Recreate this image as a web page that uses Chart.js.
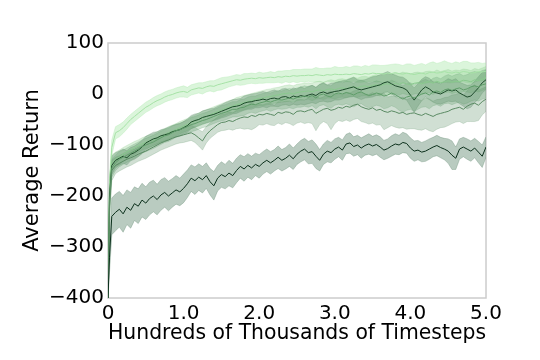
<!DOCTYPE html>
<html>
<head>
<meta charset="utf-8">
<script src="https://cdn.jsdelivr.net/npm/chart.js@4.4.1/dist/chart.umd.min.js"></script>
<style>
  html, body { margin: 0; padding: 0; background: #ffffff; }
  #chart { display: block; }
</style>
</head>
<body>
<canvas id="chart" width="540" height="360"></canvas>
<script>
'use strict';

// timesteps, hundreds of thousands
let steps = [
  0, 0.02, 0.05,
  0.10, 0.15, 0.20, 0.25, 0.30, 0.35, 0.40, 0.45, 0.50, 0.55,
  0.60, 0.65, 0.70, 0.75, 0.80, 0.85, 0.90, 0.95, 1.00, 1.05,
  1.10, 1.15, 1.20, 1.25, 1.30, 1.35, 1.40, 1.45, 1.50, 1.55,
  1.60, 1.65, 1.70, 1.75, 1.80, 1.85, 1.90, 1.95, 2.00, 2.05,
  2.10, 2.15, 2.20, 2.25, 2.30, 2.35, 2.40, 2.45, 2.50, 2.55,
  2.60, 2.65, 2.70, 2.75, 2.80, 2.85, 2.90, 2.95, 3.00, 3.05,
  3.10, 3.15, 3.20, 3.25, 3.30, 3.35, 3.40, 3.45, 3.50, 3.55,
  3.60, 3.65, 3.70, 3.75, 3.80, 3.85, 3.90, 3.95, 4.00, 4.05,
  4.10, 4.15, 4.20, 4.25, 4.30, 4.35, 4.40, 4.45, 4.50, 4.55,
  4.60, 4.65, 4.70, 4.75, 4.80, 4.85, 4.90, 4.95, 5.00
];

// pale green run (top)
let paleMean = [
  -400, -180, -105,
  -76, -72, -66, -58, -50, -44, -38, -32, -26, -22,
  -17, -13, -10, -6, -3, -1, 2, 4, 5, 3,
  8, 10, 12, 11, 14, 16, 15, 18, 20, 22,
  24, 26, 28, 27, 29, 30, 31, 30, 32, 31,
  32, 33, 32, 34, 33, 35, 34, 36, 35, 36,
  36, 37, 36, 38, 37, 36, 38, 37, 39, 38,
  38, 39, 38, 40, 39, 38, 40, 39, 41, 40,
  40, 39, 41, 40, 42, 40, 39, 41, 40, 38,
  40, 41, 39, 42, 43, 41, 42, 44, 42, 41,
  43, 42, 44, 43, 41, 42, 44, 43, 45
];
let paleSpread = [
  0, 20, 15,
  12, 12, 11, 11, 10, 10, 10, 10, 10, 10,
  10, 10, 10, 10, 10, 10, 10, 10, 11, 10,
  10, 10, 10, 11, 10, 10, 11, 11, 12, 11,
  10, 10, 10, 10, 11, 10, 10, 10, 11, 10,
  10, 11, 10, 11, 12, 11, 12, 12, 13, 12,
  13, 12, 13, 14, 13, 14, 13, 14, 15, 14,
  14, 15, 14, 15, 16, 15, 16, 15, 16, 17,
  16, 17, 16, 18, 17, 18, 17, 18, 19, 18,
  18, 19, 18, 19, 20, 19, 20, 21, 20, 19,
  20, 19, 20, 21, 20, 19, 18, 17, 16
];

// light-mid green run
let lightMean = [
  -400, -190, -135,
  -128, -124, -118, -114, -110, -106, -102, -98, -95, -92,
  -90, -86, -83, -80, -76, -73, -70, -66, -63, -60,
  -56, -53, -50, -47, -44, -41, -38, -35, -32, -29,
  -26, -24, -21, -19, -17, -15, -13, -11, -9, -8,
  -6, -5, -3, -2, 0, 1, 2, 0, 3, 4,
  5, 6, 4, 7, 8, 6, 9, 10, 8, 11,
  12, 10, 13, 14, 12, 15, 16, 14, 17, 18,
  16, 19, 20, 18, 21, 19, 22, 20, 18, 21,
  22, 20, 23, 24, 21, 25, 22, 24, 26, 23,
  25, 24, 27, 26, 24, 28, 26, 29, 32
];
let lightSpread = [
  0, 25, 16,
  14, 14, 13, 13, 13, 13, 12, 12, 12, 12,
  12, 12, 12, 12, 12, 12, 12, 12, 12, 12,
  12, 12, 13, 13, 13, 13, 13, 13, 13, 13,
  13, 13, 14, 14, 14, 14, 14, 14, 14, 15,
  15, 15, 15, 15, 15, 16, 16, 16, 16, 16,
  16, 16, 17, 17, 17, 17, 17, 18, 18, 18,
  18, 18, 18, 19, 19, 19, 19, 19, 19, 20,
  20, 20, 20, 20, 20, 21, 21, 21, 21, 21,
  21, 21, 21, 21, 22, 22, 22, 22, 22, 22,
  22, 22, 22, 22, 22, 22, 22, 22, 22
];

// medium green run
let midMean = [
  -400, -210, -145,
  -135, -128, -124, -120, -116, -112, -108, -103, -100, -97,
  -94, -90, -86, -82, -80, -76, -72, -70, -67, -64,
  -60, -58, -55, -52, -50, -47, -44, -41, -38, -36,
  -33, -30, -30, -27, -26, -22, -20, -21, -18, -16,
  -14, -16, -13, -11, -12, -10, -8, -10, -7, -6,
  -4, -6, -3, -8, -2, 0, -4, -6, 0, 2,
  0, 3, 1, -2, 2, 4, 0, -3, -1, 2,
  0, -4, -2, 2, -1, -6, -10, -6, -4, -8,
  -4, 0, 2, -2, 4, 6, 3, 8, 10, 7,
  10, 12, 8, 10, 14, 16, 14, 18, 20
];
let midSpread = [
  0, 30, 18,
  15, 15, 14, 14, 14, 14, 14, 13, 13, 13,
  13, 13, 13, 13, 13, 13, 13, 13, 13, 13,
  14, 14, 14, 14, 14, 14, 14, 14, 15, 15,
  15, 15, 15, 16, 16, 16, 16, 17, 17, 17,
  17, 18, 18, 18, 18, 19, 19, 19, 19, 20,
  20, 20, 20, 21, 21, 21, 21, 22, 22, 22,
  22, 22, 23, 23, 23, 23, 24, 24, 24, 24,
  24, 25, 25, 25, 25, 26, 26, 26, 26, 26,
  26, 26, 27, 27, 27, 27, 27, 27, 28, 28,
  28, 28, 28, 28, 28, 28, 28, 28, 28
];

// grey-green run, lower edge of the cluster
let lowMean = [
  -400, -220, -150,
  -140, -136, -132, -128, -125, -122, -118, -115, -112, -108,
  -104, -100, -96, -93, -90, -87, -84, -82, -80, -78,
  -76, -80, -86, -92, -80, -72, -66, -60, -56, -55,
  -52, -54, -50, -47, -45, -46, -42, -44, -40, -41,
  -38, -40, -42, -36, -38, -35, -36, -40, -34, -33,
  -35, -32, -30, -38, -34, -30, -28, -32, -30, -26,
  -28, -24, -26, -22, -20, -25, -28, -30, -27, -32,
  -30, -34, -36, -33, -35, -38, -36, -40, -38, -37,
  -40, -42, -38, -41, -44, -40, -38, -36, -34, -30,
  -28, -26, -30, -24, -20, -18, -22, -15, -10
];
let lowSpread = [
  0, 30, 20,
  16, 15, 15, 15, 15, 14, 14, 14, 14, 14,
  14, 14, 14, 14, 14, 14, 14, 14, 15, 15,
  15, 15, 16, 18, 16, 15, 15, 15, 16, 16,
  17, 17, 18, 20, 24, 22, 28, 22, 20, 20,
  20, 21, 20, 21, 22, 21, 22, 22, 23, 22,
  23, 24, 28, 34, 26, 24, 30, 38, 28, 26,
  26, 27, 28, 28, 28, 29, 28, 29, 30, 29,
  30, 36, 30, 29, 30, 29, 30, 29, 30, 31,
  30, 29, 30, 31, 30, 29, 28, 29, 28, 28,
  27, 28, 28, 30, 34, 36, 30, 26, 24
];

// dark green run, sits in the middle of the cluster
let darkMean = [
  -400, -200, -140,
  -130, -126, -122, -125, -118, -115, -110, -104, -96, -92,
  -88, -86, -82, -80, -78, -74, -72, -70, -66, -62,
  -55, -52, -50, -46, -44, -42, -40, -37, -34, -31,
  -28, -25, -24, -22, -18, -16, -15, -13, -12, -10,
  -12, -9, -8, -10, -6, -5, -8, -4, -6, -3,
  -5, -2, 0, -3, 2, 4, 1, 3, 5, 6,
  8, 10, 12, 14, 10, 8, 10, 12, 14, 16,
  18, 22, 24, 20, 16, 14, 12, 8, -2, -12,
  -2, 8, 14, 10, 4, 2, 0, 4, 8, 6,
  8, 2, -2, -6, -4, 4, 12, 22, 28
];
let darkSpread = [
  0, 30, 18,
  15, 14, 14, 14, 13, 13, 13, 13, 13, 13,
  13, 12, 12, 12, 13, 12, 12, 12, 12, 13,
  13, 13, 12, 13, 13, 13, 12, 13, 13, 14,
  14, 14, 14, 13, 14, 14, 15, 14, 15, 15,
  15, 15, 16, 15, 16, 16, 15, 16, 16, 17,
  16, 17, 17, 16, 17, 18, 17, 18, 17, 18,
  18, 17, 18, 19, 18, 19, 18, 19, 20, 19,
  20, 19, 20, 20, 21, 20, 21, 20, 22, 24,
  22, 21, 20, 21, 20, 21, 20, 21, 22, 21,
  22, 21, 22, 23, 22, 21, 22, 20, 19
];

// darkest run, well below the others
let bottomMean = [
  -400, -320, -240,
  -232, -226, -235, -222, -228, -215, -220, -208, -214, -205,
  -200, -207, -198, -193, -200, -194, -188, -192, -185, -176,
  -165, -170, -163, -168, -160, -172, -180, -165, -158, -162,
  -155, -160, -150, -142, -147, -140, -145, -138, -142, -135,
  -130, -135, -130, -124, -130, -126, -120, -127, -118, -112,
  -108, -115, -113, -122, -130, -118, -112, -115, -108, -104,
  -110, -98, -96, -103, -100, -106, -101, -98, -102, -99,
  -104, -110, -107, -102, -98, -100, -95, -97, -106, -112,
  -110, -114, -112, -108, -104, -101, -105, -108, -112, -120,
  -126, -108, -104, -108, -112, -106, -114, -122, -104
];
let bottomSpread = [
  0, 30, 36,
  36, 35, 36, 34, 35, 33, 34, 33, 32, 32,
  31, 30, 30, 29, 29, 28, 28, 27, 28, 27,
  26, 27, 26, 26, 25, 26, 28, 25, 25, 24,
  25, 24, 24, 23, 24, 23, 23, 22, 23, 22,
  22, 22, 21, 22, 21, 21, 22, 21, 20, 21,
  21, 22, 23, 24, 21, 20, 21, 20, 20, 19,
  20, 19, 20, 19, 19, 20, 19, 20, 19, 19,
  20, 19, 19, 20, 20, 19, 20, 19, 20, 20,
  19, 19, 20, 20, 19, 20, 20, 21, 24, 28,
  22, 20, 19, 20, 20, 19, 21, 22, 20
];

let xTicks = [0, 1, 2, 3, 4, 5];
let yTicks = [-400, -300, -200, -100, 0, 100];

let runs = [
  { mean: bottomMean, spread: bottomSpread, line: '#0b2f1b', band: 'rgba(100,140,115,0.45)' },
  { mean: lowMean, spread: lowSpread, line: '#5a8a63', band: 'rgba(100,150,110,0.3)' },
  { mean: midMean, spread: midSpread, line: '#5f9d69', band: 'rgba(105,165,115,0.3)' },
  { mean: darkMean, spread: darkSpread, line: '#1d4a2b', band: 'rgba(70,120,85,0.3)' },
  { mean: lightMean, spread: lightSpread, line: '#89c98d', band: 'rgba(140,205,140,0.32)' },
  { mean: paleMean, spread: paleSpread, line: '#a6e2a6', band: 'rgba(175,232,175,0.45)' }
];

function points(mean, spread, sign) {
  return steps.map((x, i) => ({ x: x, y: mean[i] + sign * spread[i] }));
}

let datasets = [];
for (let r of runs) {
  datasets.push({
    data: points(r.mean, r.spread, 1),
    borderColor: r.band, borderWidth: 0.8, backgroundColor: r.band,
    pointRadius: 0, fill: '+1', order: 2, tension: 0
  });
  datasets.push({
    data: points(r.mean, r.spread, -1),
    borderColor: r.band, borderWidth: 0.8, backgroundColor: r.band,
    pointRadius: 0, fill: false, order: 2, tension: 0
  });
}
for (let r of runs) {
  datasets.push({
    data: points(r.mean, r.spread, 0),
    borderColor: r.line, borderWidth: 1, pointRadius: 0,
    fill: false, order: 1, tension: 0
  });
}

let frame = {
  id: 'frame',
  beforeDatasetsDraw(chart) {
    let ctx = chart.ctx;
    let a = chart.chartArea;
    ctx.save();
    ctx.strokeStyle = '#cccccc';
    ctx.lineWidth = 1.5;
    ctx.strokeRect(a.left, a.top, a.right - a.left, a.bottom - a.top);
    ctx.restore();
  }
};

let tickFont = { family: 'DejaVu Sans', size: 20 };
let titleFont = { family: 'DejaVu Sans', size: 21 };

new Chart(document.getElementById('chart').getContext('2d'), {
  type: 'line',
  data: { datasets: datasets },
  plugins: [frame],
  options: {
    responsive: false,
    animation: false,
    layout: { padding: { left: 0, right: 54, top: 43, bottom: 0 } },
    plugins: { legend: { display: false }, tooltip: { enabled: false } },
    scales: {
      x: {
        type: 'linear', min: 0, max: 5,
        afterFit(scale) { scale.height = 62; },
        afterBuildTicks(scale) { scale.ticks = xTicks.map(v => ({ value: v })); },
        grid: { display: false, drawTicks: false },
        border: { display: false },
        ticks: {
          autoSkip: false, maxRotation: 0, padding: 4, color: '#000000', font: tickFont,
          callback: v => (v === 0 ? '0' : v.toFixed(1))
        },
        title: {
          display: true, text: 'Hundreds of Thousands of Timesteps',
          color: '#000000', font: titleFont, padding: { top: 0, bottom: 14 }
        }
      },
      y: {
        type: 'linear', min: -400, max: 100,
        afterFit(scale) { scale.width = 108; },
        afterBuildTicks(scale) { scale.ticks = yTicks.map(v => ({ value: v })); },
        grid: { display: false, drawTicks: false },
        border: { display: false },
        ticks: {
          autoSkip: false, padding: 4, color: '#000000', font: tickFont,
          callback: v => (v < 0 ? '\u2212' + Math.abs(v) : String(v))
        },
        title: {
          display: true, text: 'Average Return',
          color: '#000000', font: titleFont, padding: { top: 20, bottom: 0 }
        }
      }
    }
  }
});
</script>
</body>
</html>
